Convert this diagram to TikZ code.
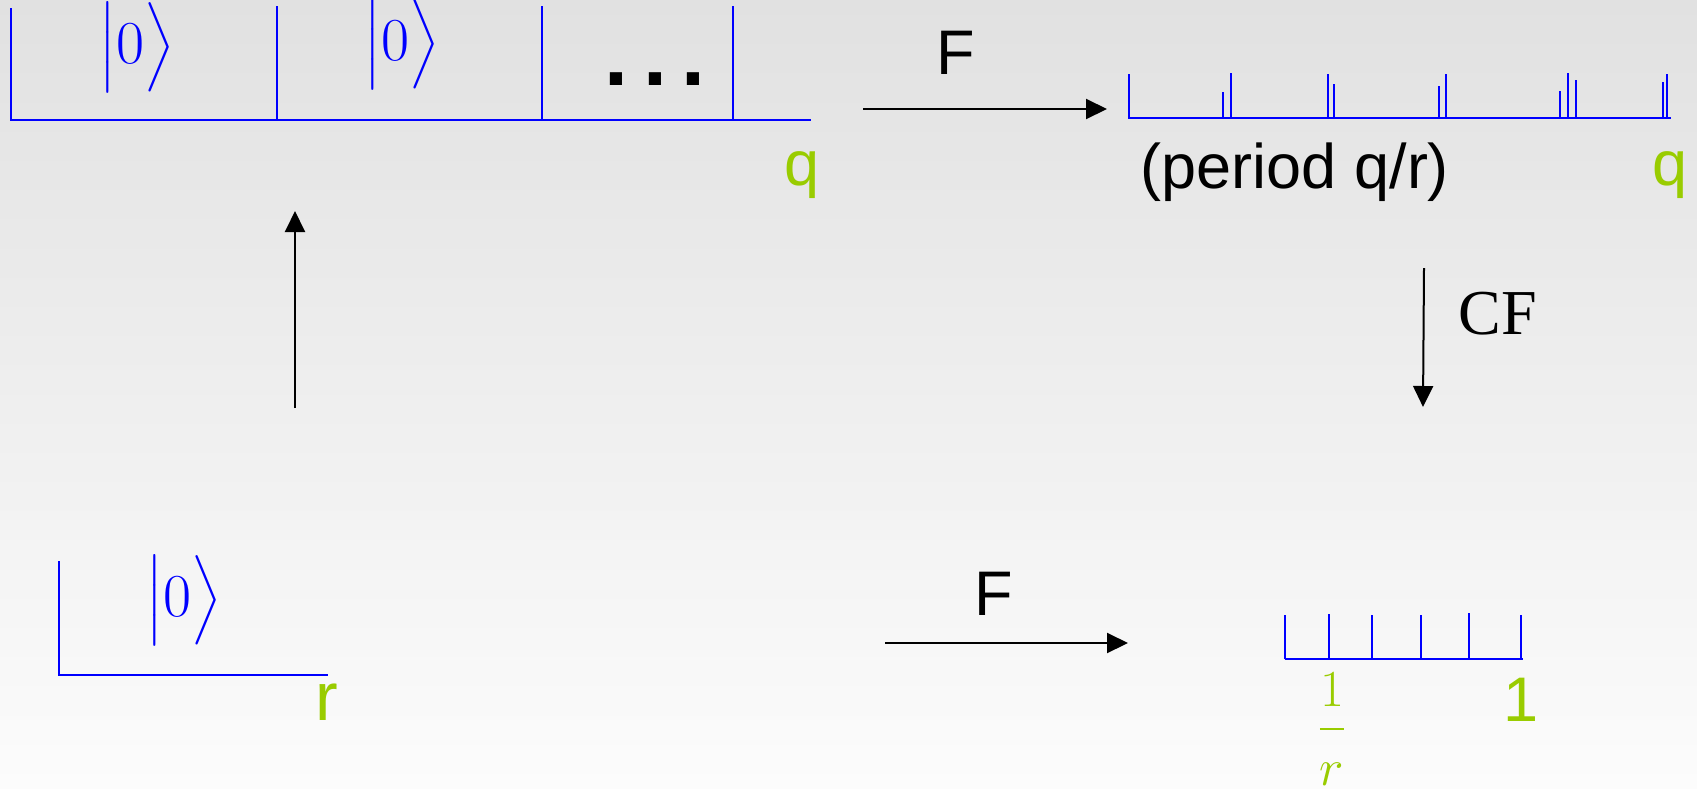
\RequirePackage{fix-cm}
\documentclass[tikz,border=0pt]{standalone}
\usepackage{exscale}
\usepackage{amsmath}
\usepackage{fontspec}
\setmainfont{Liberation Serif}
\setsansfont{Liberation Sans}
\usetikzlibrary{arrows.meta}
\definecolor{qgreen}{RGB}{153,204,0}
\definecolor{regblue}{RGB}{0,0,255}
\definecolor{bgtop}{RGB}{225,225,225}
\definecolor{bgbot}{RGB}{252,252,252}
\newcommand{\zket}{$\left|\vrule height 26.5pt depth 10pt width 0pt 0\right\rangle$}
\tikzset{
  reg/.style={regblue, line width=1pt},
  arr/.style={black, line width=1pt, -{Triangle[length=10.5pt,width=10pt]}},
  lab/.style={inner sep=0pt, anchor=base, font=\sffamily\fontsize{31.5}{36}\selectfont},
  glab/.style={lab, text=qgreen},
  serlab/.style={inner sep=0pt, anchor=base, font=\rmfamily\fontsize{32}{36}\selectfont},
  ket/.style={inner sep=0pt, anchor=base, text=regblue, font=\fontsize{30.5}{36}\selectfont},
}
\begin{document}
\begin{tikzpicture}[x=0.5pt,y=-0.5pt]
\useasboundingbox (0,0) rectangle (1697,788);
\shade[top color=bgtop, bottom color=bgbot] (0,0) rectangle (1697,788);

% top-left register
\draw[reg] (10.5,8) -- (10.5,120) -- (811,120);
\foreach \x in {277,542,733} \draw[reg] (\x,6) -- (\x,120);
\node[ket] (k1) at (137,63) {\zket};
\node[ket] (k2) at (402,60) {\zket};
\node[lab, font=\sffamily\bfseries\fontsize{43}{46}\selectfont] (dots) at (655,85) {.\kern7.5pt.\kern7.5pt.};
\node[glab] (q1) at (802,185) {q};

% top arrow F
\coordinate (fa1) at (863,109);
\coordinate (fa2) at (1107,109);
\draw[arr] (fa1) -- (fa2);
\node[lab] (F1) at (956,74) {F};

% spectrum
\draw[reg] (1128.5,74) -- (1128.5,118.3) -- (1671,118.3);
\foreach \x/\t in {1222.6/91.7,1230.6/73.3,1328.4/74,1334/84.3,1438.8/85.7,1446.4/74,1560.2/91.3,1567.8/72.7,1575.8/80.3,1662.6/81.7,1667.2/74}
  \draw[reg] (\x,118.3) -- (\x,\t);
\node[lab] (per) at (1295,188) {(period q/r)};
\node[glab] (q2) at (1670,185) {q};

% CF arrow
\coordinate (cf1) at (1424,268);
\coordinate (cf2) at (1423,407);
\draw[arr] (cf1) -- (cf2);
\node[serlab] (CF) at (1498,334) {CF};

% left up arrow
\coordinate (up1) at (295,408);
\coordinate (up2) at (295,211);
\draw[arr] (up1) -- (up2);

% bottom-left register
\draw[reg] (58.7,561) -- (58.7,675) -- (328,675);
\node[ket] (k3) at (184,616) {\zket};
\node[glab, font=\sffamily\fontsize{34}{38}\selectfont] (r) at (327,720) {r};

% bottom arrow F
\coordinate (fb1) at (885,643);
\coordinate (fb2) at (1128,643);
\draw[arr] (fb1) -- (fb2);
\node[lab] (F2) at (994,615) {F};

% bottom-right ticks
\draw[reg] (1285,659.3) -- (1523,659.3);
\foreach \x/\t in {1285/615,1328.7/614,1372/615,1421/615,1469/613,1521.3/615}
  \draw[reg] (\x,659.3) -- (\x,\t);
\node[inner sep=0pt, anchor=base, text=qgreen, font=\fontsize{26}{30}\selectfont] (frac) at (1332,742) {$\dfrac{1}{\rule{0pt}{0.95em}r}$};
\node[glab] (one) at (1521,721) {1};
\end{tikzpicture}
\end{document}
